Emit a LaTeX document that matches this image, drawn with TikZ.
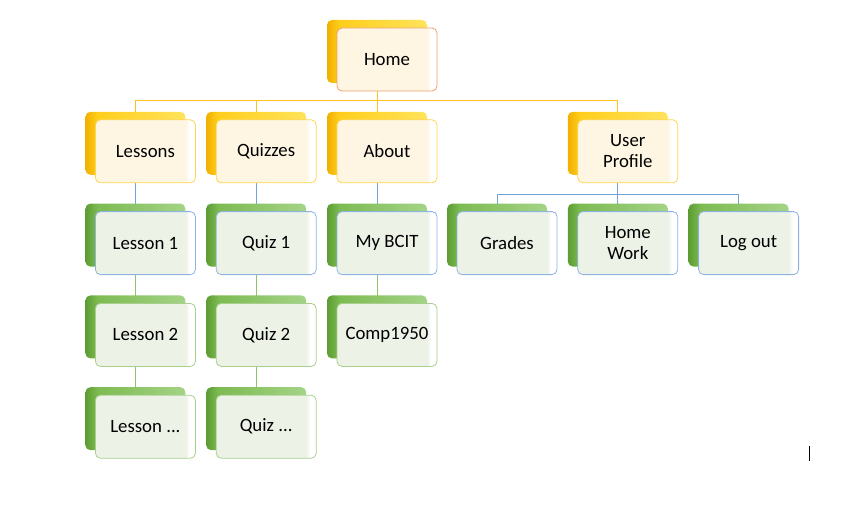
\documentclass[tikz,border=0pt]{standalone}
\usepackage{fontspec}
\setmainfont{Carlito}
\usetikzlibrary{positioning,calc,shadows,backgrounds}

\definecolor{tabYdark}{HTML}{F0B000}
\definecolor{tabYmid}{HTML}{FFCE1C}
\definecolor{tabYlight}{HTML}{FFE35A}
\definecolor{tabGdark}{HTML}{5C9C33}
\definecolor{tabGmid}{HTML}{7DBB52}
\definecolor{tabGlight}{HTML}{A4D386}
\definecolor{fillY}{HTML}{FEF6E3}
\definecolor{fillG}{HTML}{EDF2E7}
\definecolor{lineHome}{HTML}{EE9E6A}
\definecolor{lineY}{HTML}{FFD452}
\definecolor{lineB}{HTML}{8DB3E2}
\definecolor{lineG}{HTML}{A8D08D}
\definecolor{linkY}{HTML}{FFC21A}
\definecolor{linkB}{HTML}{72A2D8}
\definecolor{linkG}{HTML}{8EC46C}

\pgfdeclarehorizontalshading{tabyellow}{100bp}{color(0bp)=(tabYdark); color(25bp)=(tabYdark); color(31bp)=(tabYmid); color(75bp)=(tabYlight); color(100bp)=(tabYlight)}
\pgfdeclarehorizontalshading{tabgreen}{100bp}{color(0bp)=(tabGdark); color(25bp)=(tabGdark); color(31bp)=(tabGmid); color(75bp)=(tabGlight); color(100bp)=(tabGlight)}
\pgfdeclarehorizontalshading{frontyellow}{100bp}{color(0bp)=(fillY); color(70bp)=(fillY); color(72bp)=(white); color(100bp)=(white)}
\pgfdeclarehorizontalshading{frontgreen}{100bp}{color(0bp)=(fillG); color(70bp)=(fillG); color(72bp)=(white); color(100bp)=(white)}

\begin{document}
\begin{tikzpicture}[x=1pt,y=1pt,
  front/.style={rounded corners=5pt,minimum width=100pt,minimum height=63pt,
    inner sep=2pt,align=center,line width=0.8pt,font=\fontsize{18.8}{21}\selectfont},
  ytab/.style={general shadow={shadow xshift=-10pt,shadow yshift=8pt,shade,shading=tabyellow}},
  gtab/.style={general shadow={shadow xshift=-10pt,shadow yshift=8pt,shade,shading=tabgreen}},
  homebox/.style={front,ytab,draw=lineHome,shade,shading=frontyellow},
  yellowbox/.style={front,ytab,draw=lineY,shade,shading=frontyellow},
  bluebox/.style={front,gtab,draw=lineB,shade,shading=frontgreen},
  greenbox/.style={front,gtab,draw=lineG,shade,shading=frontgreen},
  link/.style={line width=1pt}]
  \useasboundingbox (0,0) rectangle (859,-524);

  \node[homebox] (home) at (387,-59.5) {Home};
  \node[yellowbox,below=28pt of home] (about) {About};
  \node[yellowbox,left=20pt of about] (quizzes) {Quizzes};
  \node[yellowbox,left=20pt of quizzes] (lessons) {Lessons};
  \node[yellowbox,right=140pt of about] (userprof) {User\\Profile};

  \node[bluebox,below=28pt of lessons] (lesson1) {Lesson 1};
  \node[greenbox,below=28pt of lesson1] (lesson2) {Lesson 2};
  \node[greenbox,below=28pt of lesson2] (lessonmore) {Lesson ...};
  \node[bluebox,below=28pt of quizzes] (quiz1) {Quiz 1};
  \node[greenbox,below=28pt of quiz1] (quiz2) {Quiz 2};
  \node[greenbox,below=28pt of quiz2] (quizmore) {Quiz ...};
  \node[bluebox,below=28pt of about] (mybcit) {My BCIT};
  \node[greenbox,below=28pt of mybcit] (comp) {Comp1950};

  \node[bluebox,below=28pt of userprof] (homework) {Home\\Work};
  \node[bluebox,left=20pt of homework] (grades) {Grades};
  \node[bluebox,right=20pt of homework] (logout) {Log out};

  \begin{scope}[on background layer]
    \draw[link,linkY] ($(home.south)+(-10pt,0)$) -- ++(0,-9pt) coordinate (bar);
    \foreach \n in {lessons,quizzes,about,userprof}
      \draw[link,linkY] (bar) -| ($(\n.north)+(-10pt,0)$);
    \draw[link,linkB] ($(userprof.south)+(-10pt,0)$) -- ++(0,-11pt) coordinate (subbar);
    \foreach \n in {grades,homework,logout}
      \draw[link,linkB] (subbar) -| ($(\n.north)+(-10pt,0)$);
    \foreach \a/\b/\c in {lessons/lesson1/linkB,lesson1/lesson2/linkG,lesson2/lessonmore/linkG,
        quizzes/quiz1/linkB,quiz1/quiz2/linkG,quiz2/quizmore/linkG,
        about/mybcit/linkB,mybcit/comp/linkG}
      \draw[link,\c] ($(\a.south)+(-10pt,0)$) -- ($(\b.north)+(-10pt,0)$);
  \end{scope}

  % text cursor left in the screenshot
  \draw[line width=0.9pt] (809.5,-446) -- (809.5,-461);
\end{tikzpicture}
\end{document}
